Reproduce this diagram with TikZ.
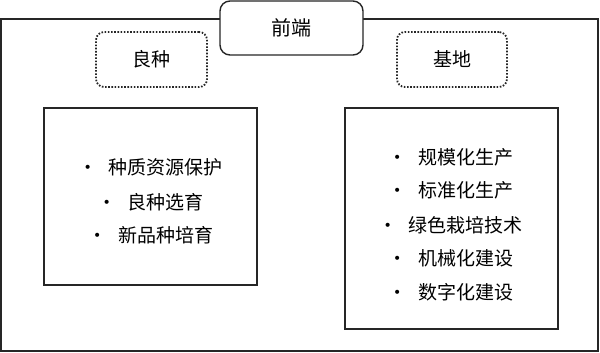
\documentclass[tikz,border=0pt]{standalone}
\usepackage{fontspec}
\setmainfont{Noto Sans CJK SC}
\newfontfamily\bulfont{DejaVu Sans}
\newcommand{\bulpt}{\makebox[12.5pt][l]{\raisebox{0.8pt}{\bulfont\fontsize{7pt}{7pt}\selectfont •}}}
\begin{document}
\begin{tikzpicture}[x=0.5pt,y=-0.5pt,
  frame/.style={draw=black!85, line width=0.7pt, inner sep=0pt},
  titlebox/.style={frame, rounded corners=5pt, fill=white, minimum width=71.5pt, minimum height=27pt, font=\fontsize{10pt}{12pt}\selectfont},
  tagbox/.style={draw=black!85, line width=0.9pt, dash pattern=on 0.8pt off 0.8pt, rounded corners=4pt, inner sep=0pt, minimum height=27.5pt, font=\fontsize{9.5pt}{12pt}\selectfont},
  listbox/.style={frame, minimum width=106.5pt},
  item/.style={inner sep=0pt, font=\fontsize{9.5pt}{12pt}\selectfont}]
\useasboundingbox (0,0) rectangle (600,353);
\node[frame, minimum width=298.5pt, minimum height=166pt] (outer) at (299.5,185) {};
\node[titlebox] (front) at (291.5,28) {前端};
\node[tagbox, minimum width=55.5pt] (seed) at (151.5,59.5) {良种};
\node[tagbox, minimum width=55pt] (base) at (452,59.5) {基地};
\node[listbox, minimum height=88.5pt] (lbox) at (150.5,196.5) {};
\node[listbox, minimum height=110.5pt] (rbox) at (451.5,218.5) {};
\node[item] (l1) at (153,167) {\bulpt 种质资源保护};
\node[item] (l2) at (153,202) {\bulpt 良种选育};
\node[item] (l3) at (153,235) {\bulpt 新品种培育};
\node[item] (r1) at (453,157) {\bulpt 规模化生产};
\node[item] (r2) at (453,190) {\bulpt 标准化生产};
\node[item] (r3) at (453,225) {\bulpt 绿色栽培技术};
\node[item] (r4) at (453,258) {\bulpt 机械化建设};
\node[item] (r5) at (453,292) {\bulpt 数字化建设};
\end{tikzpicture}
\end{document}
